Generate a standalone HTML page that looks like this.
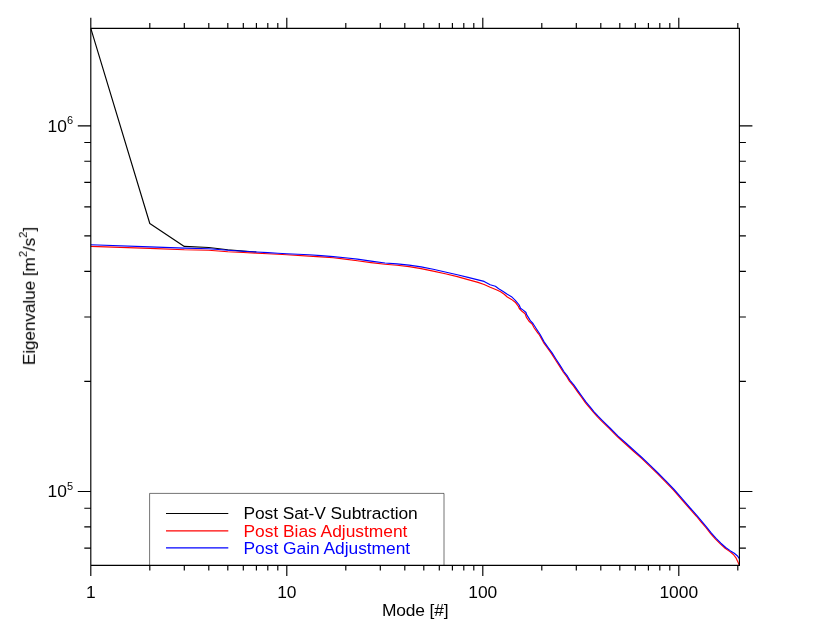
<!DOCTYPE html><html><head><meta charset="utf-8"><title>Eigenvalue spectrum</title>
<style>html,body{margin:0;padding:0;background:#fff;}svg{display:block;}text{font-family:"Liberation Sans",sans-serif;}</style></head><body>
<svg width="830" height="623" viewBox="0 0 830 623">
<rect width="830" height="623" fill="#fff"/>
<path d="M149.6 565.3V493.4H444V565.3" fill="none" stroke="#000" stroke-width="0.55"/>
<path d="M90.8 28.3 L149.8 223.5 L184.3 246.4 L208.8 247.5 L227.8 249.7 L243.3 251.1 L256.4 252.0" fill="none" stroke="#000" stroke-width="1.15" stroke-linejoin="round"/>
<path d="M90.8 246.4 L149.8 248.4 L184.3 249.8 L208.8 250.2 L227.8 251.8 L243.3 252.5 L256.4 253.1 L267.8 253.7 L277.8 254.3 L286.8 254.8 L309.1 256.1 L321.0 256.9 L333.2 257.8 L345.0 259.1 L357.3 260.8 L371.0 262.6 L385.0 264.3 L397.0 265.3 L409.1 266.6 L421.1 268.6 L433.2 271.1 L445.2 273.8 L457.3 276.6 L468.0 279.6 L478.0 282.4 L484.1 284.5 L490.2 287.2 L496.3 289.7 L500.6 291.8 L504.2 294.2 L507.3 297.0 L511.5 299.4 L515.2 302.2 L518.2 306.1 L519.3 308.5 L522.0 311.3 L525.1 313.7 L526.3 317.1 L529.0 321.3 L532.1 324.1 L534.2 328.0 L537.9 333.2 L539.4 335.0 L543.4 342.3 L547.4 348.0 L551.5 353.6 L555.5 360.0 L559.5 366.1 L563.5 372.5 L566.9 376.9 L569.4 381.1 L573.4 385.9 L577.4 391.6 L581.5 397.2 L585.5 402.8 L589.5 407.6 L593.5 412.4 L597.5 416.9 L601.9 421.3 L609.4 428.7 L617.5 436.8 L625.5 444.0 L633.5 451.2 L641.6 458.4 L649.9 466.3 L657.4 473.7 L665.5 481.8 L673.5 490.2 L681.5 499.4 L689.6 508.7 L692.0 511.3 L696.2 516.0 L701.0 521.8 L705.8 527.5 L710.6 533.6 L715.5 539.1 L720.3 543.9 L725.1 548.2 L729.9 551.6 L733.4 554.5 L735.8 557.6 L737.7 561.5 L739.3 565.2" fill="none" stroke="#f00" stroke-width="1.15" stroke-linejoin="round"/>
<path d="M90.8 244.8 L149.8 246.9 L184.3 248.1 L208.8 248.7 L227.8 250.3 L243.3 251.3 L256.4 252.0 L267.8 252.6 L277.8 253.2 L286.8 253.7 L309.1 254.8 L321.0 255.6 L333.2 256.6 L345.0 257.7 L357.3 259.1 L371.0 261.1 L385.0 263.0 L397.0 263.9 L409.1 265.1 L421.1 266.9 L433.2 269.3 L445.2 272.0 L457.3 274.8 L468.0 277.4 L478.0 279.9 L484.1 281.4 L490.2 284.8 L495.4 286.3 L498.7 288.8 L502.4 290.9 L507.3 294.2 L511.5 296.7 L515.3 300.3 L519.2 305.0 L520.5 308.2 L523.2 310.1 L526.0 312.5 L526.6 314.6 L529.3 318.9 L530.3 320.7 L533.0 323.5 L536.0 328.2 L540.0 334.3 L544.0 341.6 L548.0 347.3 L552.1 352.9 L556.1 359.3 L560.1 365.4 L564.1 371.8 L567.5 376.2 L570.0 380.4 L574.0 385.2 L578.0 390.9 L582.1 396.5 L586.1 402.1 L590.1 406.9 L594.1 411.8 L598.1 416.2 L602.5 420.6 L610.0 428.0 L618.1 436.1 L626.1 443.3 L634.1 450.5 L642.2 457.8 L650.5 465.6 L658.0 473.0 L666.1 481.1 L674.1 489.5 L682.1 498.7 L690.2 508.0 L692.6 510.6 L696.8 515.3 L701.6 521.1 L706.4 526.8 L711.2 532.9 L716.1 538.4 L720.9 543.2 L725.7 547.5 L730.5 550.9 L734.3 553.3 L737.2 555.7 L739.4 558.6" fill="none" stroke="#00f" stroke-width="1.15" stroke-linejoin="round"/>
<path d="M90.8 28.3H739.4V565.3H90.8ZM90.8 28.3v-10.6M90.8 565.3v10.6M149.8 28.3v-5.3M149.8 565.3v5.3M184.3 28.3v-5.3M184.3 565.3v5.3M208.8 28.3v-5.3M208.8 565.3v5.3M227.8 28.3v-5.3M227.8 565.3v5.3M243.3 28.3v-5.3M243.3 565.3v5.3M256.4 28.3v-5.3M256.4 565.3v5.3M267.8 28.3v-5.3M267.8 565.3v5.3M277.8 28.3v-5.3M277.8 565.3v5.3M286.8 28.3v-10.6M286.8 565.3v10.6M345.8 28.3v-5.3M345.8 565.3v5.3M380.3 28.3v-5.3M380.3 565.3v5.3M404.8 28.3v-5.3M404.8 565.3v5.3M423.8 28.3v-5.3M423.8 565.3v5.3M439.3 28.3v-5.3M439.3 565.3v5.3M452.4 28.3v-5.3M452.4 565.3v5.3M463.8 28.3v-5.3M463.8 565.3v5.3M473.8 28.3v-5.3M473.8 565.3v5.3M482.8 28.3v-10.6M482.8 565.3v10.6M541.8 28.3v-5.3M541.8 565.3v5.3M576.3 28.3v-5.3M576.3 565.3v5.3M600.8 28.3v-5.3M600.8 565.3v5.3M619.8 28.3v-5.3M619.8 565.3v5.3M635.3 28.3v-5.3M635.3 565.3v5.3M648.4 28.3v-5.3M648.4 565.3v5.3M659.8 28.3v-5.3M659.8 565.3v5.3M669.8 28.3v-5.3M669.8 565.3v5.3M678.8 28.3v-10.6M678.8 565.3v10.6M737.8 28.3v-5.3M737.8 565.3v5.3M90.8 548.1h-6.5M739.4 548.1h6.5M90.8 526.9h-6.5M739.4 526.9h6.5M90.8 508.2h-6.5M739.4 508.2h6.5M90.8 491.5h-13.0M739.4 491.5h13.0M90.8 381.4h-6.5M739.4 381.4h6.5M90.8 317.0h-6.5M739.4 317.0h6.5M90.8 271.3h-6.5M739.4 271.3h6.5M90.8 235.9h-6.5M739.4 235.9h6.5M90.8 206.9h-6.5M739.4 206.9h6.5M90.8 182.4h-6.5M739.4 182.4h6.5M90.8 161.2h-6.5M739.4 161.2h6.5M90.8 142.5h-6.5M739.4 142.5h6.5M90.8 125.8h-13.0M739.4 125.8h13.0" fill="none" stroke="#000" stroke-width="1.15"/>
<g opacity="0.999">
<path d="M166 513.45H228.3" stroke="#000" stroke-width="1.15"/>
<text x="243.5" y="519.4" font-size="17.4" fill="#000" textLength="174.2" lengthAdjust="spacing">Post Sat-V Subtraction</text>
<path d="M166 530.85H228.3" stroke="#f00" stroke-width="1.15"/>
<text x="243.5" y="536.5" font-size="17.4" fill="#f00" textLength="163.9" lengthAdjust="spacing">Post Bias Adjustment</text>
<path d="M166 547.90H228.3" stroke="#00f" stroke-width="1.15"/>
<text x="243.5" y="553.7" font-size="17.4" fill="#00f" textLength="166.7" lengthAdjust="spacing">Post Gain Adjustment</text>
<text x="90.8" y="598.3" font-size="17.4" text-anchor="middle">1</text>
<text x="286.8" y="598.3" font-size="17.4" text-anchor="middle">10</text>
<text x="482.8" y="598.3" font-size="17.4" text-anchor="middle">100</text>
<text x="678.8" y="598.3" font-size="17.4" text-anchor="middle">1000</text>
<text x="415.3" y="616.1" font-size="17.4" text-anchor="middle" textLength="66.7" lengthAdjust="spacing">Mode [#]</text>
<text x="47.6" y="131.8" font-size="17.4">10<tspan font-size="11" dy="-7.85">6</tspan></text>
<text x="47.6" y="497.4" font-size="17.4">10<tspan font-size="11" dy="-7.85">5</tspan></text>
<text transform="translate(34.9 365.2) rotate(-90)" font-size="17.4" textLength="138.3" lengthAdjust="spacing">Eigenvalue [m<tspan font-size="11.4" dy="-7.8">2</tspan><tspan dy="7.8">/s</tspan><tspan font-size="11.4" dy="-7.8">2</tspan><tspan dy="7.8">]</tspan></text>
</g>
</svg></body></html>
